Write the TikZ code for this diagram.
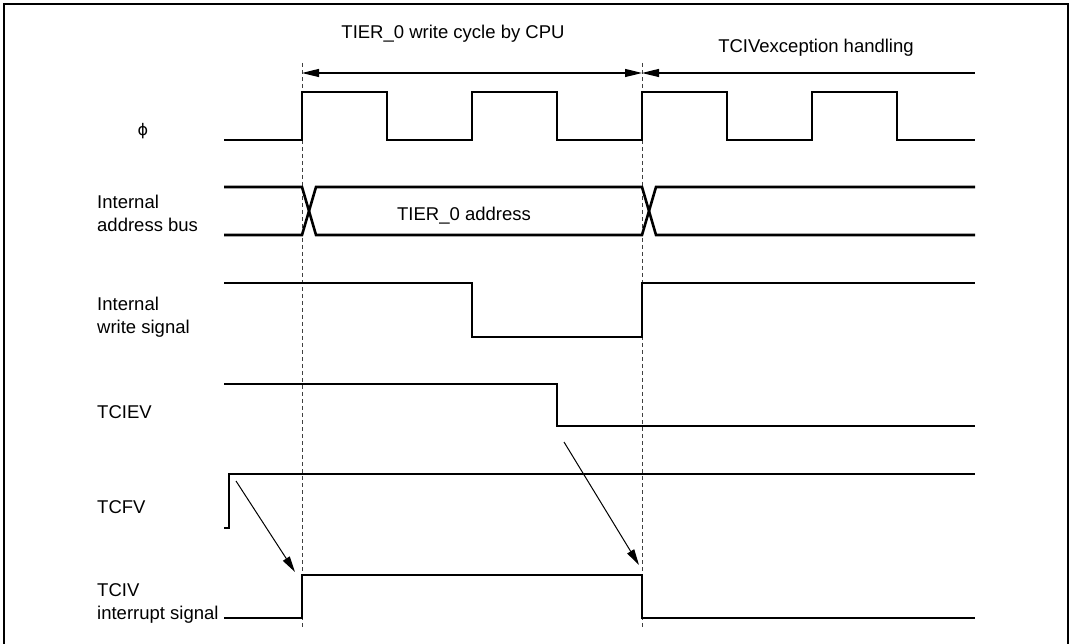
\documentclass[tikz,border=0pt]{standalone}
\usepackage{fontspec}
\setmainfont{Liberation Sans}
\newfontfamily\greekfont{DejaVu Sans}
\usetikzlibrary{arrows.meta}

\begin{document}
\begin{tikzpicture}[
			x=1pt, y=-1pt,
			>={Triangle[length=17pt,width=8pt]},
			wave/.style={line width=2.6pt, line join=miter},
			guide/.style={line width=1pt, dash pattern=on 4pt off 3pt, black!75},
			span/.style={line width=1.2pt},
			cause/.style={line width=1pt, -{Triangle[length=16pt,width=8pt]}},
			every node/.style={
				inner sep=0pt,
				align=left,
				font=\fontsize{18.5}{23.4}\selectfont
			}
			]
			
			\useasboundingbox (0,0) rectangle (1074,644);
			
			%%%%%%%%%%%%%%%%%%%%%%%%%%%%%%%%%%%%%%%%%%%%%%%%%%%%%%%%%%%%
			% Frame
			%%%%%%%%%%%%%%%%%%%%%%%%%%%%%%%%%%%%%%%%%%%%%%%%%%%%%%%%%%%%
			
			\draw[line width=2.5pt] (4,644) -- (4,4) -- (1068,4) -- (1068,644);
			
			%%%%%%%%%%%%%%%%%%%%%%%%%%%%%%%%%%%%%%%%%%%%%%%%%%%%%%%%%%%%
			% Signal Names
			%%%%%%%%%%%%%%%%%%%%%%%%%%%%%%%%%%%%%%%%%%%%%%%%%%%%%%%%%%%%
			
			\node (phi) at (143,131) {\greekfont\fontsize{16}{20}\selectfont ϕ};
			
			\node (addrbus) [anchor=west] at (97,213.5) {Internal\\address bus};
			
			\node (wrsig) [anchor=west] at (97,317.5) {Internal\\write signal};
			
			\node (tciev) [anchor=west] at (97,412) {TCIEV};
			
			\node (tcfv) [anchor=west] at (97,507) {TCFV};
			
			\node (tciv) [anchor=west] at (97,603.5) {TCIV\\interrupt signal};
			
			%%%%%%%%%%%%%%%%%%%%%%%%%%%%%%%%%%%%%%%%%%%%%%%%%%%%%%%%%%%%
			% Cycle Marks
			%%%%%%%%%%%%%%%%%%%%%%%%%%%%%%%%%%%%%%%%%%%%%%%%%%%%%%%%%%%%
			
			\coordinate (wrstart) at (302,73);
			\coordinate (wrend) at (642,73);
			\coordinate (excend) at (975,73);
			
			\draw[guide] (302,63) -- (302,628);
			
			\draw[guide] (642,63) -- (642,628);
			
			\draw[span,<->] (wrstart) -- (wrend);
			
			\draw[span,<-] (wrend) -- (excend);
			
			\node (cycle) [anchor=base] at (453,38.6) {TIER\_0 write cycle by CPU};
			
			\node (exc) [anchor=base] at (816,52.6) {TCIVexception handling};
			
			%%%%%%%%%%%%%%%%%%%%%%%%%%%%%%%%%%%%%%%%%%%%%%%%%%%%%%%%%%%%
			% Waveforms
			%%%%%%%%%%%%%%%%%%%%%%%%%%%%%%%%%%%%%%%%%%%%%%%%%%%%%%%%%%%%
			
			% Clock
			
			\draw[wave] (224,140) -- (302,140) -- (302,92) -- (387,92) -- (387,140)
			-- (472,140) -- (472,92) -- (557,92) -- (557,140) -- (642,140)
			-- (642,92) -- (727,92) -- (727,140) -- (812,140) -- (812,92)
			-- (897,92) -- (897,140) -- (975,140);
			
			% Address bus
			
			\draw[wave] (224,187) -- (302,187) -- (316,235) -- (642,235) -- (656,187) -- (975,187);
			
			\draw[wave] (224,235) -- (302,235) -- (316,187) -- (642,187) -- (656,235) -- (975,235);
			
			\node (addr) [anchor=base] at (464,221) {TIER\_0 address};
			
			% Write signal
			
			\draw[wave] (224,283) -- (472,283) -- (472,337) -- (642,337) -- (642,283) -- (975,283);
			
			% Flags
			
			\draw[wave] (224,384) -- (557,384) -- (557,426) -- (975,426);
			
			\draw[wave] (224,528) -- (229,528) -- (229,474) -- (975,474);
			
			% Interrupt signal
			
			\draw[wave] (224,618) -- (302,618) -- (302,575) -- (642,575) -- (642,618) -- (975,618);
			
			%%%%%%%%%%%%%%%%%%%%%%%%%%%%%%%%%%%%%%%%%%%%%%%%%%%%%%%%%%%%
			% Causes
			%%%%%%%%%%%%%%%%%%%%%%%%%%%%%%%%%%%%%%%%%%%%%%%%%%%%%%%%%%%%
			
			\coordinate (fvset) at (236,481);
			\coordinate (ivset) at (295,572);
			\coordinate (evclr) at (564,442);
			\coordinate (ivclr) at (639,565);
			
			\draw[cause] (fvset) -- (ivset);
			
			\draw[cause] (evclr) -- (ivclr);
			
			%%%%%%%%%%%%%%%%%%%%%%%%%%%%%%%%%%%%%%%%%%%%%%%%%%%%%%%%%%%%
			
		\end{tikzpicture}
\end{document}
